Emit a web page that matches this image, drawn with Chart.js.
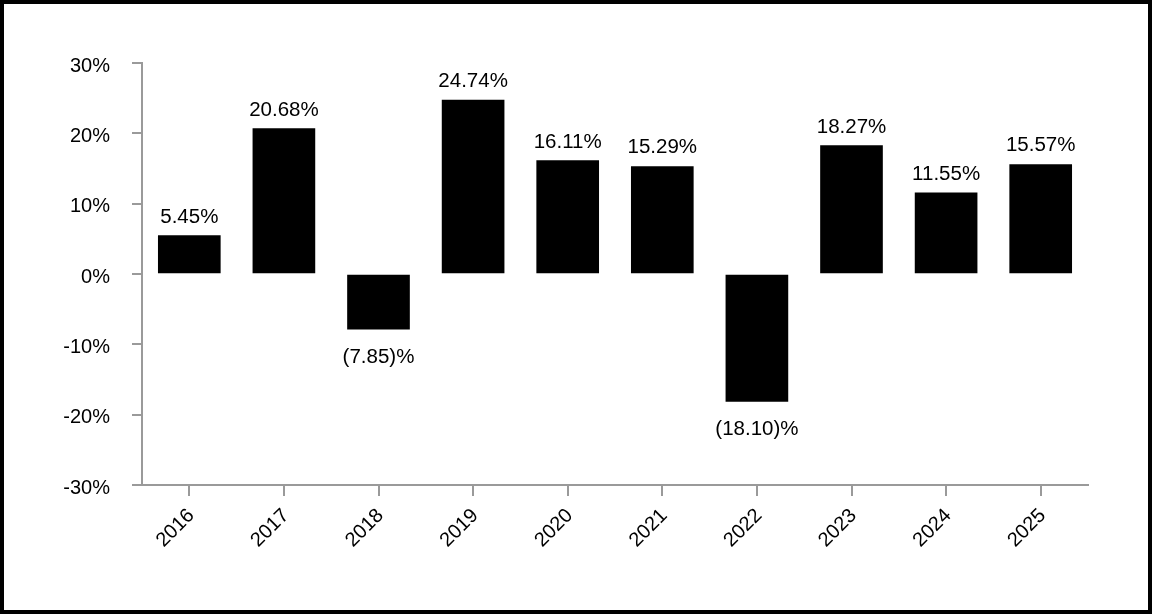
<!DOCTYPE html>
<html lang="en">
<head>
    <meta charset="UTF-8">
    <title>Annual Total Returns</title>
    <script src="https://cdn.jsdelivr.net/npm/chart.js"></script>
    <style>
        html, body {
            margin: 0;
            padding: 0;
            background: #fff;
        }
        #wrap {
            width: 1152px;
            height: 614px;
            position: relative;
        }
    </style>
</head>
<body>
<div id="wrap">
    <canvas id="chartCanvas" width="1152" height="614"></canvas>
</div>

<script>
const years = ['2016', '2017', '2018', '2019', '2020', '2021', '2022', '2023', '2024', '2025'];
const returns = [5.45, 20.68, -7.85, 24.74, 16.11, 15.29, -18.10, 18.27, 11.55, 15.57];
const yTicks = [-30, -20, -10, 0, 10, 20, 30];

const axisGray = '#9a9a9a';
const fontFamily = "'Liberation Sans', Arial, sans-serif";

function fmtValue(v) {
    // negatives shown in brackets, like (7.85)%
    return v < 0 ? '(' + Math.abs(v).toFixed(2) + ')%' : v.toFixed(2) + '%';
}

const valueLabels = {
    id: 'valueLabels',
    afterDatasetsDraw(chart) {
        const ctx = chart.ctx;
        const meta = chart.getDatasetMeta(0);
        ctx.save();
        ctx.font = '20.5px ' + fontFamily;
        ctx.fillStyle = '#000';
        ctx.textAlign = 'center';
        ctx.textBaseline = 'alphabetic';
        meta.data.forEach((bar, i) => {
            const v = returns[i];
            const y = v >= 0 ? bar.y - 13 : bar.y + 34;
            ctx.fillText(fmtValue(v), bar.x, y);
        });
        ctx.restore();
    }
};

const frame = {
    id: 'frame',
    afterDraw(chart) {
        const ctx = chart.ctx;
        ctx.save();
        ctx.strokeStyle = '#000';
        ctx.lineWidth = 4;
        ctx.strokeRect(2, 2, chart.width - 4, chart.height - 4);
        ctx.restore();
    }
};

new Chart(document.getElementById('chartCanvas'), {
    type: 'bar',
    data: {
        labels: years,
        datasets: [{
            data: returns,
            backgroundColor: '#000',
            borderWidth: 0,
            barThickness: 62
        }]
    },
    options: {
        responsive: false,
        animation: false,
        layout: {
            padding: { left: 0, right: 64, top: 63, bottom: 0 }
        },
        plugins: {
            legend: { display: false },
            tooltip: { enabled: false }
        },
        scales: {
            x: {
                afterFit(scale) { scale.height = 129; },
                grid: {
                    drawOnChartArea: false,
                    drawTicks: true,
                    tickLength: 11,
                    offset: false,
                    color: axisGray,
                    lineWidth: 2
                },
                border: { display: true, color: axisGray, width: 2 },
                ticks: {
                    color: '#000',
                    font: { family: fontFamily, size: 20 },
                    minRotation: 45,
                    maxRotation: 45,
                    autoSkip: false,
                    padding: 8,
                    labelOffset: 2
                }
            },
            y: {
                min: yTicks[0],
                max: yTicks[yTicks.length - 1],
                afterFit(scale) { scale.width = 142; },
                afterBuildTicks(scale) {
                    scale.ticks = yTicks.map(v => ({ value: v }));
                },
                grid: {
                    drawOnChartArea: false,
                    drawTicks: true,
                    tickLength: 10,
                    color: axisGray,
                    lineWidth: 2
                },
                border: { display: true, color: axisGray, width: 2 },
                ticks: {
                    color: '#000',
                    font: { family: fontFamily, size: 20 },
                    padding: 22,
                    labelOffset: 3,
                    callback: v => v + '%'
                }
            }
        }
    },
    plugins: [valueLabels, frame]
});
</script>
</body>
</html>
